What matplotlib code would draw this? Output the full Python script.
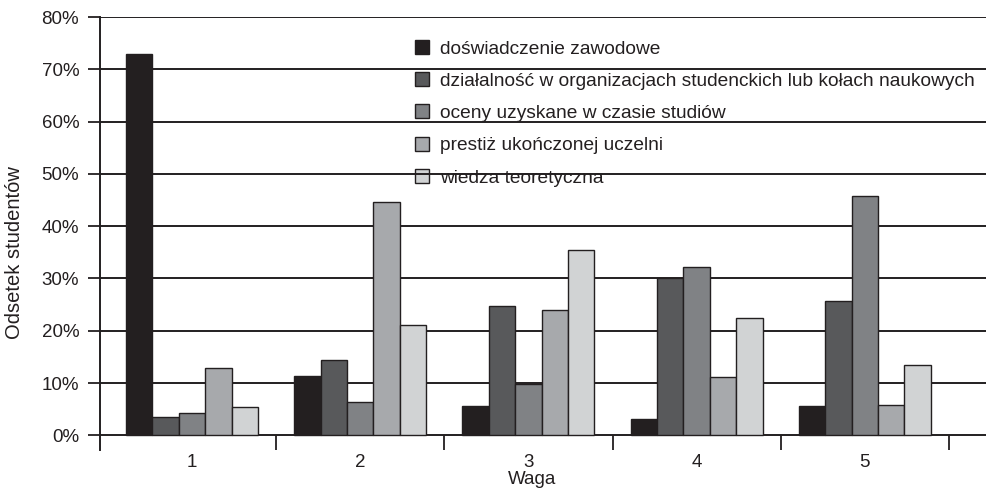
import numpy as np
import matplotlib.pyplot as plt
from matplotlib.ticker import FixedLocator

plt.rcParams['font.family'] = ['Liberation Sans', 'DejaVu Sans']

# dane
wagi = ['1', '2', '3', '4', '5']
serie = ['doświadczenie zawodowe',
         'działalność w organizacjach studenckich lub kołach naukowych',
         'oceny uzyskane w czasie studiów',
         'prestiż ukończonej uczelni',
         'wiedza teoretyczna']
doswiadczenie = [73.0, 11.3, 5.6, 3.2, 5.6]
dzialalnosc = [3.5, 14.4, 24.7, 30.1, 25.6]
oceny = [4.2, 6.4, 9.9, 32.2, 45.8]
prestiz = [12.9, 44.6, 24.0, 11.1, 5.8]
wiedza = [5.5, 21.2, 35.5, 22.5, 13.4]

kolory = ['#231f20', '#58595b', '#808285', '#a7a9ac', '#d1d3d4']

fig = plt.figure(figsize=(9.86, 4.93), dpi=100)
ax = fig.add_axes([0.1014, 0.0872, 0.8986, 0.8783])

x = np.arange(1, 6)
w = 0.157
for i, (vals, lab) in enumerate(zip([doswiadczenie, dzialalnosc, oceny, prestiz, wiedza], serie)):
    ax.bar(x + (i - 2) * w, np.array(vals) / 100, w, color=kolory[i],
           edgecolor='#231f20', linewidth=1.0, label=lab, zorder=2)

ax.set_xlim(0.453, 5.72)
ax.set_ylim(-0.028, 0.8)
ax.set_yticks(np.arange(0, 0.81, 0.1))
ax.set_yticklabels([f'{int(round(v * 100))}%' for v in np.arange(0, 0.81, 0.1)])
ax.yaxis.grid(True, color='#231f20', linewidth=1.4)
ax.set_axisbelow(True)

ax.set_xticks(x)
ax.set_xticklabels(wagi)
ax.xaxis.set_minor_locator(FixedLocator(np.arange(1.5, 5.6, 1)))
ax.tick_params(axis='x', which='major', length=0, labelsize=13.5, pad=3, colors='#231f20')
ax.tick_params(axis='x', which='minor', direction='in', length=10.5, width=1.3, color='#231f20')
ax.tick_params(axis='y', direction='out', length=9, width=1.3, labelsize=13.5, pad=6,
               color='#231f20', labelcolor='#231f20')

for s in ['top', 'right', 'bottom']:
    ax.spines[s].set_visible(False)
ax.spines['left'].set_color('#231f20')
ax.spines['left'].set_linewidth(1.4)

ax.set_ylabel('Odsetek studentów', fontsize=14.5, color='#231f20')
ax.yaxis.set_label_coords(-0.086, 0.457)
ax.set_xlabel('Waga', fontsize=13.5, color='#231f20')
ax.xaxis.set_label_coords(0.4876, -0.049)

leg = ax.legend(loc='upper left', bbox_to_anchor=(0.347, 0.965), frameon=False,
                fontsize=13.8, handlelength=0.75, handleheight=0.75, handletextpad=0.55,
                labelspacing=0.76, borderaxespad=0)
leg.set_zorder(0.1)
for t in leg.get_texts():
    t.set_color('#231f20')

fig.savefig('out.png', dpi=100)
